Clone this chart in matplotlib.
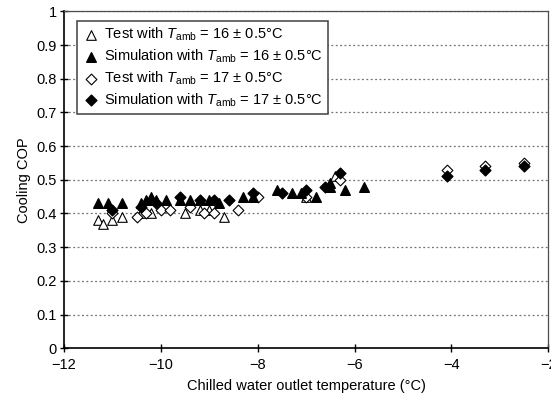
import matplotlib
matplotlib.use("Agg")
import matplotlib.pyplot as plt

plt.rcParams.update({
    "font.family": "Liberation Sans",
    "mathtext.fontset": "custom",
    "mathtext.rm": "Liberation Sans",
    "mathtext.it": "Liberation Sans:italic",
    "font.size": 10.5,
})

# Test with T_amb = 16 +/- 0.5 C (open triangles)
test16_x = [-11.3, -11.2, -11.0, -10.8, -10.4, -10.2, -9.5, -9.2, -9.0, -8.7, -7.0, -6.4]
test16_y = [0.38, 0.37, 0.38, 0.39, 0.40, 0.40, 0.40, 0.41, 0.41, 0.39, 0.45, 0.51]

# Simulation with T_amb = 16 (filled triangles)
sim16_x = [-11.3, -11.1, -10.8, -10.4, -10.3, -10.2, -10.1, -9.9, -9.6, -9.4, -9.2,
           -9.0, -8.8, -8.3, -8.1, -7.6, -7.3, -7.1, -6.8, -6.5, -6.5, -6.2, -5.8]
sim16_y = [0.43, 0.43, 0.43, 0.43, 0.44, 0.45, 0.44, 0.44, 0.44, 0.44, 0.44,
           0.44, 0.43, 0.45, 0.45, 0.47, 0.46, 0.46, 0.45, 0.49, 0.48, 0.47, 0.48]

# Test with T_amb = 17 (open diamonds)
test17_x = [-11.0, -10.5, -10.3, -10.0, -9.8, -9.4, -9.1, -8.9, -8.4, -8.0, -7.0,
            -6.3, -4.1, -3.3, -2.5]
test17_y = [0.40, 0.39, 0.40, 0.41, 0.41, 0.42, 0.40, 0.40, 0.41, 0.45, 0.45,
            0.50, 0.53, 0.54, 0.55]

# Simulation with T_amb = 17 (filled diamonds)
sim17_x = [-11.0, -10.4, -10.1, -9.6, -9.2, -8.9, -8.6, -8.1, -7.5, -7.0, -6.6,
           -6.3, -4.1, -3.3, -2.5]
sim17_y = [0.41, 0.42, 0.43, 0.45, 0.44, 0.44, 0.44, 0.46, 0.46, 0.47, 0.48,
           0.52, 0.51, 0.53, 0.54]

fig = plt.figure(figsize=(5.51, 4.04), dpi=100)
ax = fig.add_axes([0.116, 0.138, 0.879, 0.834])

ax.scatter(test16_x, test16_y, marker="^", s=48, facecolors="white",
           edgecolors="black", linewidths=0.8, zorder=3,
           label=r"Test with $T_{\mathrm{amb}}$ = 16 ± 0.5°C")
ax.scatter(sim16_x, sim16_y, marker="^", s=48, color="black", zorder=4,
           label=r"Simulation with $T_{\mathrm{amb}}$ = 16 ± 0.5°C")
ax.scatter(test17_x, test17_y, marker="D", s=30, facecolors="white",
           edgecolors="black", linewidths=0.8, zorder=3,
           label=r"Test with $T_{\mathrm{amb}}$ = 17 ± 0.5°C")
ax.scatter(sim17_x, sim17_y, marker="D", s=30, color="black", zorder=4,
           label=r"Simulation with $T_{\mathrm{amb}}$ = 17 ± 0.5°C")

ax.set_xlim(-12, -2)
ax.set_ylim(0, 1)
ax.set_xticks([-12, -10, -8, -6, -4, -2])
ax.set_yticks([0, 0.1, 0.2, 0.3, 0.4, 0.5, 0.6, 0.7, 0.8, 0.9, 1])
ax.set_yticklabels(["0", "0.1", "0.2", "0.3", "0.4", "0.5", "0.6", "0.7",
                    "0.8", "0.9", "1"])
ax.yaxis.grid(True, ls=(0, (1.5, 2)), color="0.45", lw=0.9)
ax.set_axisbelow(True)
ax.tick_params(direction="inout", length=6, width=1, colors="black", pad=2)
ax.tick_params(axis="x", pad=4)
for s in ["left", "bottom"]:
    ax.spines[s].set_linewidth(1.2)
for s in ["top", "right"]:
    ax.spines[s].set_color("0.3")
    ax.spines[s].set_linewidth(0.9)

ax.set_xlabel("Chilled water outlet temperature (°C)", labelpad=5)
ax.set_ylabel("Cooling COP", labelpad=4)

leg = ax.legend(loc="upper left", bbox_to_anchor=(0.027, 0.972),
                fancybox=False, edgecolor="0.25", framealpha=1,
                handletextpad=0.3, borderpad=0.35, labelspacing=0.3,
                handlelength=1.2, borderaxespad=0)
leg.get_frame().set_linewidth(1.1)

fig.savefig("out.png", dpi=100)
